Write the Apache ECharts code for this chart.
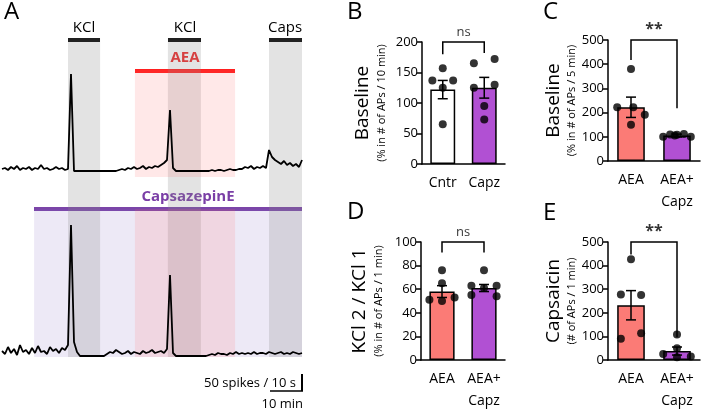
<!DOCTYPE html>
<html><head><meta charset="utf-8">
<script src="https://cdn.jsdelivr.net/npm/echarts@6/dist/echarts.min.js"></script>
<style>html,body{margin:0;padding:0;background:#fff}#chart{width:708px;height:412px}</style>
</head><body><div id="chart"></div>
<script>
// panel A traces (spikes per bin, baseline ~0)
var topTrace = [3,4,2,5,3,6,2,4,3,5,2,4,3,7,3,4,2,3,5,3,4,2,
  3,98,1,
  1,1,1,1,1,1,1,1,1,1,1,1,1,1,
  2,3,2,4,3,5,3,4,6,3,5,4,6,5,7,9,
  12,62,4,
  1,1,1,1,1,1,1,1,1,1,1,1,2,1,2,2,1,2,3,2,2,3,
  3,5,4,6,3,5,4,6,4,
  22,15,12,10,8,11,7,9,6,8,5,12];
var botTrace = [6,3,10,4,8,2,12,5,7,3,9,4,11,5,6,3,10,6,8,4,9,7,
  12,132,15,5,1,
  1,1,1,1,1,1,1,1,
  3,5,4,7,5,3,4,6,3,5,4,3,6,4,5,7,4,5,6,4,8,
  82,4,1,
  1,1,1,1,1,1,1,1,1,1,
  2,3,2,4,3,3,2,4,3,5,3,4,3,4,3,5,3,4,4,3,5,4,3,4,5,3,4,3,5,4,3,4];

// panels B-E
var bCats = ['Cntr', 'Capz'];
var bMeans = [122, 125];
var bSem = [15, 17];
var bPts = [[157, 137, 137, 125, 65], [165, 172, 125, 130, 95, 73]];
var cCats = ['AEA', 'AEA+\nCapz'];
var cMeans = [222, 105];
var cSem = [42, 6];
var cPts = [[380, 222, 222, 191, 150], [100, 110, 108, 112, 100, 105]];
var dCats = ['AEA', 'AEA+\nCapz'];
var dMeans = [58, 61];
var dSem = [5, 3];
var dPts = [[76, 65, 51, 53, 50], [76, 63, 63, 61, 55, 54]];
var eCats = ['AEA', 'AEA+\nCapz'];
var eMeans = [232, 38];
var eSem = [62, 17];
var ePts = [[427, 278, 275, 113, 90], [108, 50, 25, 15, 12]];

var jitter = {
  b: [[0, -0.25, 0.25, 0, 0], [-0.25, 0.25, -0.25, 0.25, 0, 0]],
  c: [[0, -0.3, 0.05, 0.3, 0], [-0.3, -0.15, 0, 0.15, 0.3, -0.05]],
  d: [[0, 0, -0.3, 0.3, 0], [0, -0.3, 0.3, 0, -0.3, 0.3]],
  e: [[0, -0.22, 0.22, 0.22, -0.22], [0, 0, -0.3, 0.3, 0]]
};
var FONT = 'Open Sans';
var chart = echarts.init(document.getElementById('chart'));

var grids = [], xAxes = [], yAxes = [], series = [];

// ---- panel A ----
grids.push({left: 2, top: 38, width: 300, height: 171});
grids.push({left: 2, top: 209, width: 300, height: 148});
[0, 1].forEach(function (k) {
  xAxes.push({type: 'value', gridIndex: k, min: 0, max: 100, show: false});
});
yAxes.push({type: 'value', gridIndex: 0, min: -37, max: 134, show: false});
yAxes.push({type: 'value', gridIndex: 1, min: 0, max: 148, show: false});
var gray = 'rgba(140,140,140,0.24)', pink = 'rgba(255,90,90,0.14)', lav = 'rgba(130,100,190,0.14)';
function band(a, b, c, y0, y1) {
  var s = {itemStyle: {color: c}, xAxis: a}, e = {xAxis: b};
  if (y0 != null) { s.yAxis = y0; e.yAxis = y1; }
  return [s, e];
}
function trace(vals, k, areas) {
  return {type: 'line', xAxisIndex: k, yAxisIndex: k, symbol: 'none',
    data: vals.map(function (v, i) { return [i, v]; }),
    lineStyle: {color: '#000', width: 1.8}, silent: true, z: 5,
    markArea: {silent: true, data: areas}};
}
series.push(trace(topTrace, 0, [
  band(22, 32.7, gray), band(55.3, 66.3, gray), band(89, 100, gray),
  band(44.3, 77.7, pink, -5, 102)]));
series.push(trace(botTrace, 1, [
  band(10.7, 100, lav), band(22, 32.7, gray), band(55.3, 66.3, gray), band(89, 100, gray),
  band(44.3, 77.7, pink)]));

// ---- panels B-E ----
var panels = [
  {key: 'b', cats: bCats, means: bMeans, sem: bSem, pts: bPts, colors: ['#ffffff', '#b150d3'],
   grid: {left: 422, top: 42, width: 83, height: 122}, max: 200, step: 50,
   title: 'Baseline', sub: '(% in # of APs / 10 min)', gap: 32,
   bracket: {top: 200, legs: [180, 182], text: 'ns'}},
  {key: 'c', cats: cCats, means: cMeans, sem: cSem, pts: cPts, colors: ['#fb7b76', '#b150d3'],
   grid: {left: 608, top: 40, width: 92, height: 121}, max: 500, step: 100,
   title: 'Baseline', sub: '(% in # of APs / 5 min)', gap: 20,
   bracket: {top: 500, legs: [417, 218], text: '**'}},
  {key: 'd', cats: dCats, means: dMeans, sem: dSem, pts: dPts, colors: ['#fb7b76', '#b150d3'],
   grid: {left: 421, top: 242, width: 84, height: 122}, max: 100, step: 20,
   title: 'KCl 2 / KCl 1', sub: '(% in # of APs / 1 min)', gap: 34,
   bracket: {top: 100, legs: [91, 91], text: 'ns'}},
  {key: 'e', cats: eCats, means: eMeans, sem: eSem, pts: ePts, colors: ['#fb7b76', '#b150d3'],
   grid: {left: 608, top: 242, width: 92, height: 121}, max: 500, step: 100,
   title: 'Capsaicin', sub: '(# of APs / 1 min)', gap: 20,
   bracket: {top: 500, legs: [447, 96], text: '**'}}
];

var ST = {stroke: '#000', lineWidth: 1.5, fill: null};
panels.forEach(function (p) {
  var gi = grids.length;
  grids.push(p.grid);
  var xc = xAxes.length;
  xAxes.push({type: 'category', gridIndex: gi, data: p.cats,
    axisLine: {onZero: false, lineStyle: {color: '#000', width: 1.5}},
    axisTick: {alignWithLabel: true, length: 4, lineStyle: {width: 1.5}},
    axisLabel: {interval: 0, color: '#000', fontFamily: FONT, fontSize: 14, margin: 8, lineHeight: 22}});
  xAxes.push({type: 'value', gridIndex: gi, min: -0.5, max: 1.5, show: false});
  var yi = yAxes.length;
  yAxes.push({type: 'value', gridIndex: gi, min: 0, max: p.max, interval: p.step,
    splitLine: {show: false},
    axisLine: {show: true, onZero: false, lineStyle: {color: '#000', width: 1.5}},
    axisTick: {show: true, length: 5, lineStyle: {width: 1.5}},
    axisLabel: {color: '#000', fontFamily: FONT, fontSize: 13, margin: 4},
    name: '{a|' + p.title + '}\n{b|' + p.sub + '}', nameLocation: 'middle', nameGap: p.gap,
    nameTextStyle: {fontFamily: FONT, color: '#000', rich: {
      a: {fontSize: 19, fontFamily: FONT, lineHeight: 22},
      b: {fontSize: 11, fontFamily: FONT, lineHeight: 16}}}});
  series.push({type: 'bar', xAxisIndex: xc, yAxisIndex: yi, barWidth: '60%',
    data: p.means.map(function (m, i) {
      return {value: m, itemStyle: {color: p.colors[i]}};
    }),
    itemStyle: {borderColor: '#000', borderWidth: 1.5}, z: 2});
  var pts = [];
  p.pts.forEach(function (g, i) {
    g.forEach(function (v, j) { pts.push([i + jitter[p.key][i][j], v]); });
  });
  series.push({type: 'scatter', xAxisIndex: xc + 1, yAxisIndex: yi, data: pts,
    symbolSize: 8, itemStyle: {color: '#000'}, z: 4});
  series.push({type: 'custom', xAxisIndex: xc + 1, yAxisIndex: yi, z: 3,
    data: p.means.map(function (m, i) { return [i, m - p.sem[i], m + p.sem[i]]; }),
    renderItem: function (params, api) {
      var lo = api.coord([api.value(0), api.value(1)]);
      var hi = api.coord([api.value(0), api.value(2)]);
      return {type: 'group', children: [
        {type: 'line', shape: {x1: lo[0], y1: lo[1], x2: hi[0], y2: hi[1]}, style: ST},
        {type: 'line', shape: {x1: lo[0] - 5, y1: lo[1], x2: lo[0] + 5, y2: lo[1]}, style: ST},
        {type: 'line', shape: {x1: hi[0] - 5, y1: hi[1], x2: hi[0] + 5, y2: hi[1]}, style: ST}]};
    }});
  var br = p.bracket;
  series.push({type: 'custom', xAxisIndex: xc + 1, yAxisIndex: yi, z: 3, clip: false,
    data: [[br.legs[0], br.top, br.legs[1]]],
    renderItem: function (params, api) {
      var a = api.coord([0, api.value(0)]), b = api.coord([0, api.value(1)]);
      var c = api.coord([1, api.value(1)]), d = api.coord([1, api.value(2)]);
      return {type: 'polyline', shape: {points: [a, b, c, d]}, style: ST};
    }});
  series.push({type: 'scatter', xAxisIndex: xc + 1, yAxisIndex: yi, symbolSize: 0, clip: false,
    data: [[0.5, br.top]],
    label: {show: true, position: 'top', distance: 3, formatter: br.text, color: '#000',
      fontFamily: FONT, fontSize: br.text === 'ns' ? 13 : 16, fontWeight: br.text === 'ns' ? 'normal' : 'bold'}});
});

function txt(x, y, s, size, color, weight, align) {
  return {type: 'text', x: x, y: y, style: {text: s, fontFamily: FONT, fontSize: size,
    fill: color || '#000', fontWeight: weight || 'normal', align: align || 'center', verticalAlign: 'middle'}};
}
function bar(x0, x1, y, c) {
  return {type: 'rect', shape: {x: x0, y: y - 2, width: x1 - x0, height: 4}, style: {fill: c}};
}
chart.setOption({
  animation: false,
  grid: grids, xAxis: xAxes, yAxis: yAxes, series: series,
  graphic: [
    txt(4, 12, 'A', 24, '#000', 'normal', 'left'),
    txt(347, 12, 'B', 24, '#000', 'normal', 'left'),
    txt(543, 12, 'C', 24, '#000', 'normal', 'left'),
    txt(347, 212, 'D', 24, '#000', 'normal', 'left'),
    txt(543, 213, 'E', 24, '#000', 'normal', 'left'),
    txt(84, 28, 'KCl', 15), txt(185, 28, 'KCl', 15), txt(285, 28, 'Caps', 15),
    bar(68, 100, 40, '#000'), bar(168, 201, 40, '#000'), bar(269, 302, 40, '#000'),
    txt(185, 58, 'AEA', 15, '#ee2a2a', 'bold'), bar(135, 235, 71, '#ff1f1f'),
    txt(188, 197, 'CapsazepinE', 15, '#7a3ea6', 'bold'), bar(34, 302, 209, '#7b45a8'),
    txt(296, 383, '50 spikes / 10 s', 13, '#000', 'normal', 'right'),
    {type: 'line', shape: {x1: 270, y1: 391, x2: 303, y2: 391}, style: {stroke: '#000', lineWidth: 1.5}},
    {type: 'line', shape: {x1: 302, y1: 374, x2: 302, y2: 391}, style: {stroke: '#000', lineWidth: 2}},
    txt(303, 404, '10 min', 13, '#000', 'normal', 'right')
  ]
});
</script></body></html>
